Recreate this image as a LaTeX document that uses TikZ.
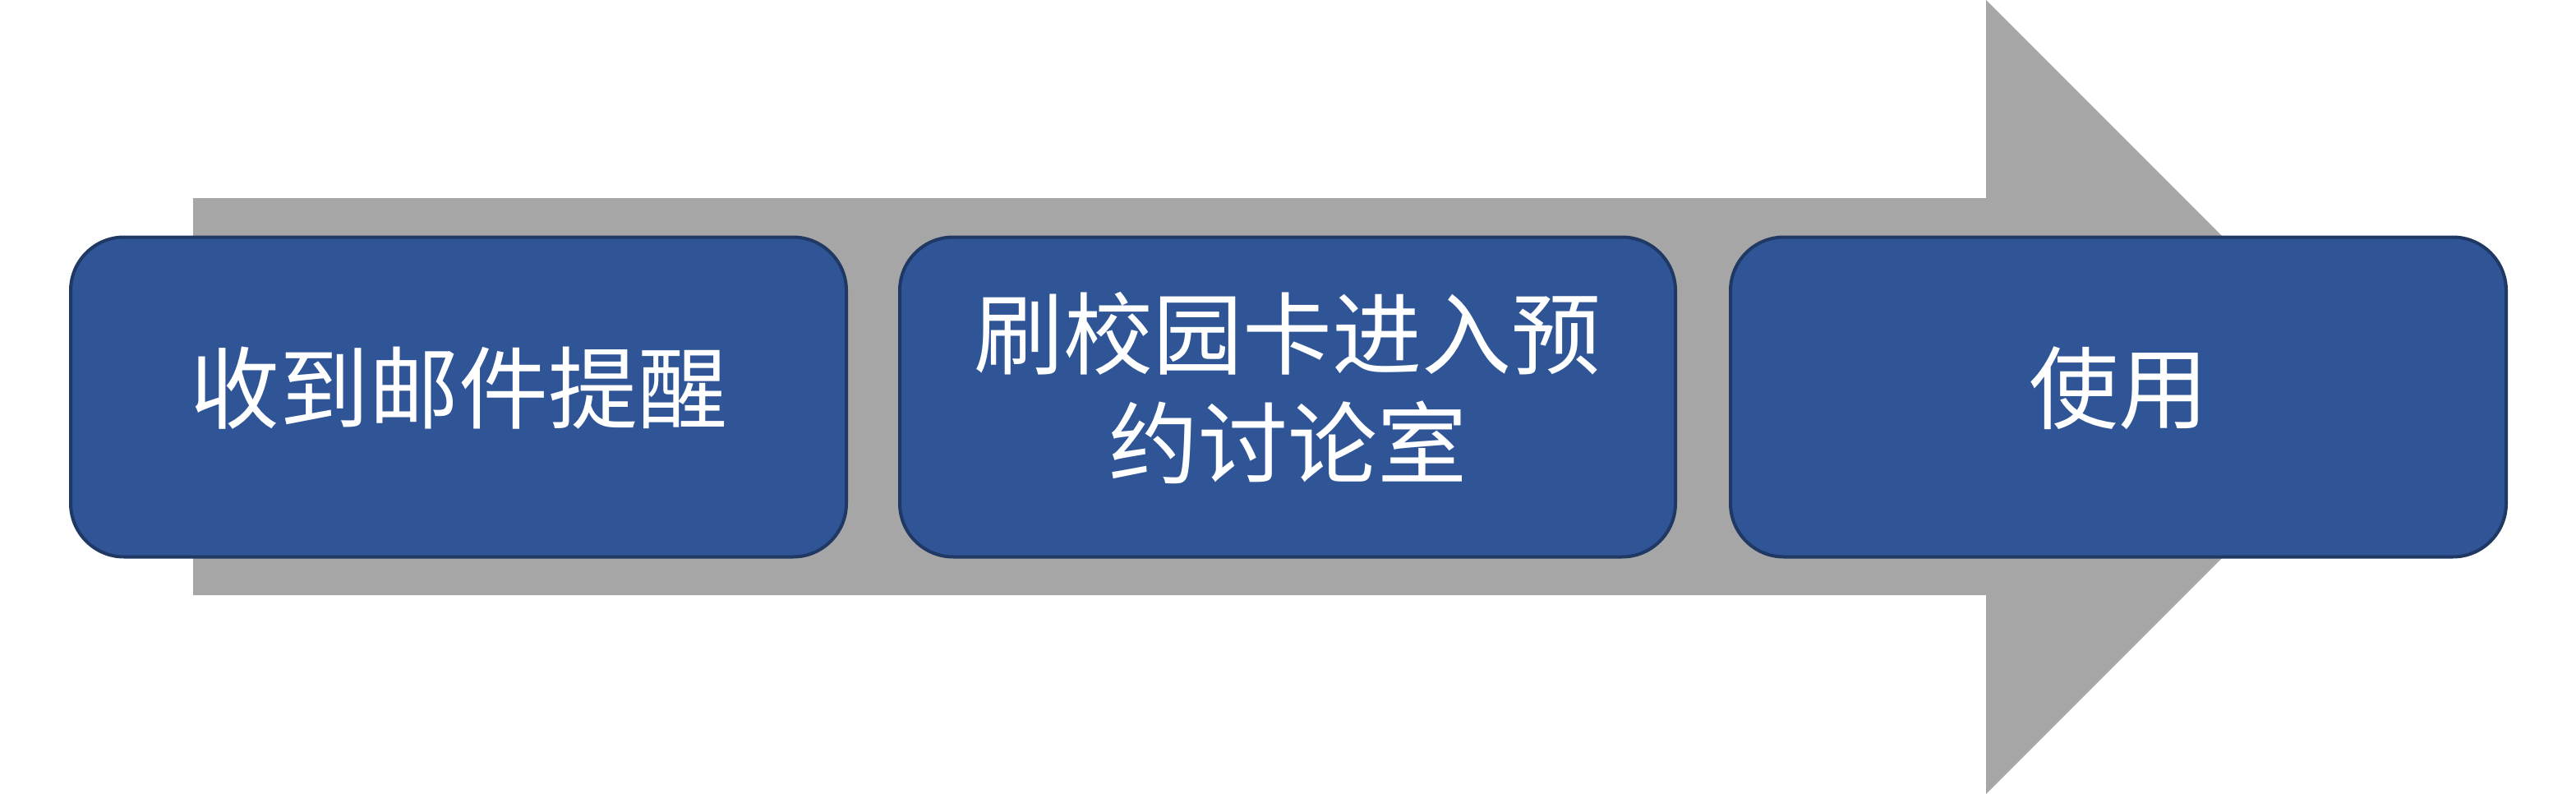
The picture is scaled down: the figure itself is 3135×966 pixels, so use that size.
\documentclass[tikz,border=0pt]{standalone}
\usepackage{fontspec}
\newfontfamily\cjk{Noto Sans CJK SC}
\definecolor{arrowgray}{HTML}{A6A6A6}
\definecolor{boxfill}{HTML}{2F5597}
\definecolor{boxline}{HTML}{203864}
\tikzset{
  stepbox/.style={draw=boxline, fill=boxfill, line width=4pt,
    rounded corners=65pt, minimum width=944pt, minimum height=389pt,
    inner sep=0pt, text=white, align=center, text depth=30pt,
    font=\cjk\fontsize{109}{133}\selectfont}
}
\begin{document}
\begin{tikzpicture}[x=1pt,y=-1pt]
\useasboundingbox (0,0) rectangle (3135,966);
\fill[arrowgray] (235,241) -- (2417,241) -- (2417,0) -- (2900,483)
  -- (2417,966) -- (2417,724) -- (235,724) -- cycle;
\node[stepbox] (b1) at (558,483) {收到邮件提醒};
\node[stepbox] (b2) at (1567,483) {刷校园卡进入预\\约讨论室};
\node[stepbox] (b3) at (2578,483) {使用};
\end{tikzpicture}
\end{document}
